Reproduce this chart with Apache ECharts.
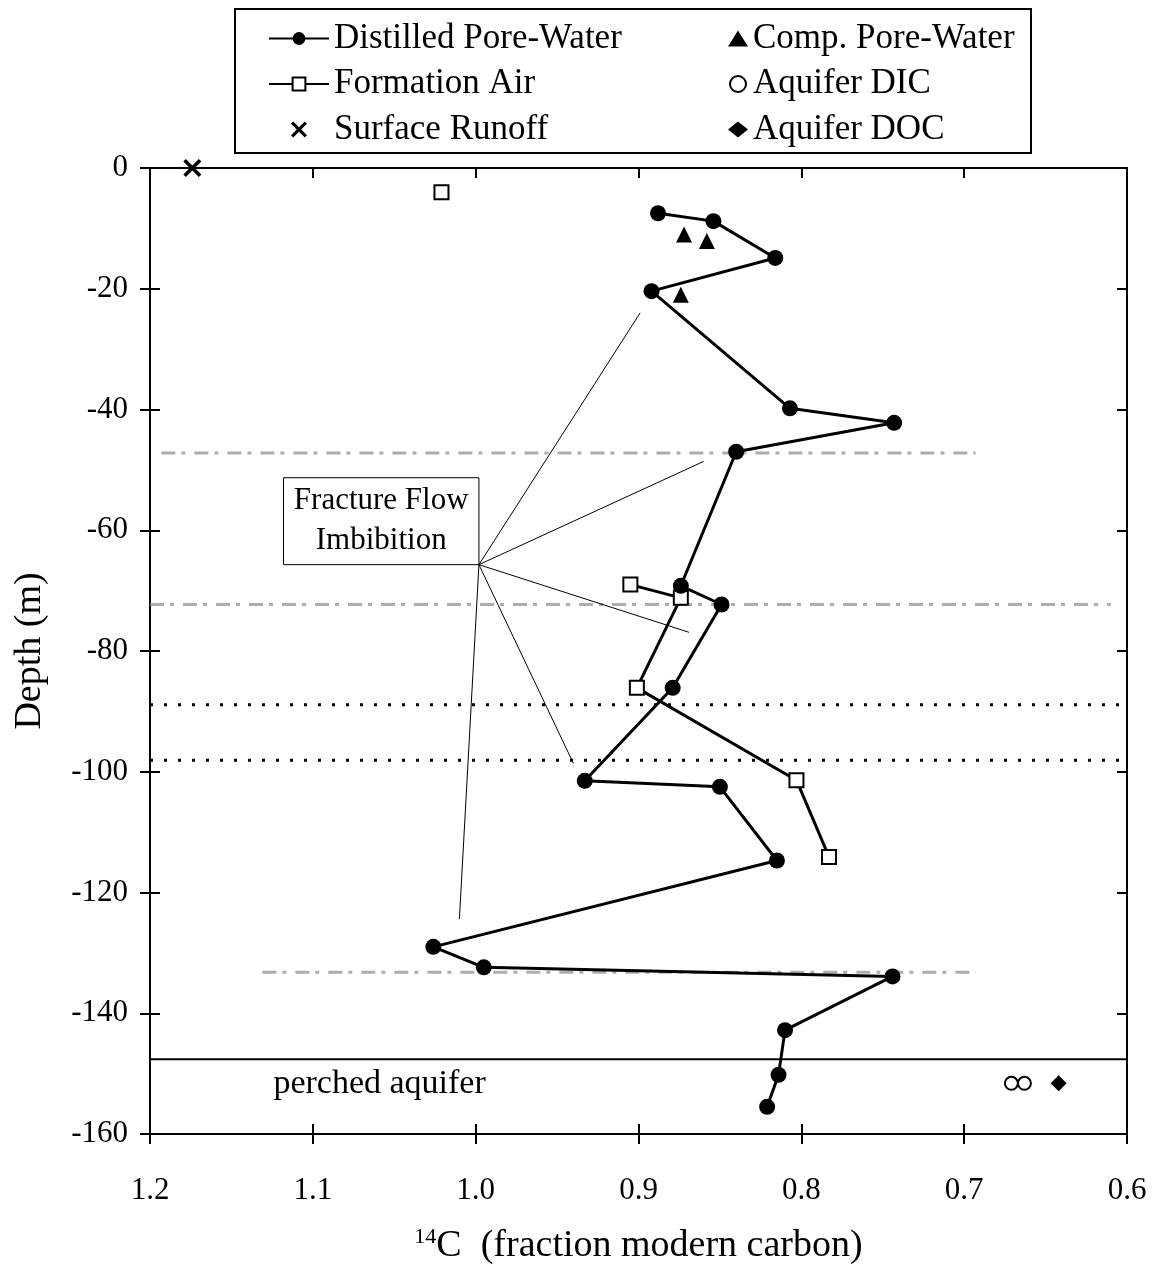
<!DOCTYPE html>
<html>
<head>
<meta charset="utf-8">
<script src="https://cdn.jsdelivr.net/npm/echarts@6/dist/echarts.min.js"></script>
<style>
  html, body { margin: 0; padding: 0; background: #fff; }
  #chart { width: 1155px; height: 1273px; }
</style>
</head>
<body>
<div id="chart"></div>
<script>
// ---- data: [14C fraction modern, depth m] ----
const distilledPoreWater = [
  [0.888, -7.5], [0.854, -8.8], [0.816, -14.9], [0.892, -20.4],
  [0.807, -39.8], [0.743, -42.2], [0.840, -47.0], [0.874, -69.2],
  [0.849, -72.3], [0.879, -86.1], [0.933, -101.5], [0.850, -102.5],
  [0.815, -114.7], [1.026, -129.0], [0.995, -132.4], [0.744, -133.9],
  [0.810, -142.8], [0.814, -150.2], [0.821, -155.5]
];
const formationAirTop = [[1.021, -4.0]];
const formationAir = [
  [0.905, -69.0], [0.874, -71.2], [0.901, -86.1], [0.803, -101.4], [0.783, -114.1]
];
const compPoreWater = [[0.872, -11.0], [0.858, -12.1], [0.874, -21.0]];
const aquiferDIC = [[0.671, -151.6], [0.663, -151.6]];
const aquiferDOC = [[0.642, -151.6]];
const surfaceRunoff = [[1.174, 0]];

// annotations
const fractureHub = [0.998, -65.7];
const fractureEnds = [[0.899, -24.0], [0.860, -48.6], [0.869, -76.9], [0.940, -98.6], [1.010, -124.4]];
const fractureBox = [[1.118, -51.3], [0.998, -65.7]];
const dottedDepths = [-88.9, -98.1];
const perchedTop = -147.6;
const grayBands = [
  [[1.193, -47.2], [0.693, -47.2]],
  [[1.200, -72.3], [0.610, -72.3]],
  [[1.131, -133.2], [0.693, -133.2]]
];
const perchedLabel = [1.059, -151.7];

const xTicks = { min: 0.6, max: 1.2, interval: 0.1 };
const yTicks = { min: -160, max: 0, interval: 20 };

const FONT = "Liberation Serif";
const chart = echarts.init(document.getElementById("chart"));

const tickStyle = { color: "#000", width: 2 };
const xBase = {
  type: "value", inverse: true, ...xTicks,
  splitLine: { show: false },
  axisLine: { onZero: false, lineStyle: { color: "#000", width: 2 } },
};
const yBase = {
  type: "value", ...yTicks,
  splitLine: { show: false },
  axisLine: { onZero: false, lineStyle: { color: "#000", width: 2 } },
};

// thin fracture lines, one series each
const fractureSeries = fractureEnds.map((end, i) => ({
  type: "line", name: "fracture" + i, silent: true, symbol: "none",
  data: [fractureHub, end],
  lineStyle: { color: "#000", width: 1 }, z: 3,
}));

const graySeries = grayBands.map((seg, i) => ({
  type: "line", name: "band" + i, silent: true, symbol: "none",
  data: seg,
  lineStyle: { color: "#8a8a8a", width: 3, type: [14, 6, 4, 9], opacity: 0.7 }, z: 1,
}));

const dottedSeries = dottedDepths.map((d, i) => ({
  type: "line", name: "dot" + i, silent: true, symbol: "none",
  data: [[xTicks.max, d], [xTicks.min, d]],
  lineStyle: { color: "#000", width: 3, type: [3, 11] }, z: 2,
}));

const legendText = { color: "#000", fontFamily: FONT, fontSize: 35, lineHeight: 35 };

const option = {
  animation: false,
  backgroundColor: "#fff",
  grid: { left: 150, right: 28, top: 168, bottom: 139 },
  xAxis: [
    {
      ...xBase, position: "bottom",
      axisTick: { inside: false, length: 10, lineStyle: tickStyle },
      axisLabel: {
        color: "#000", fontFamily: FONT, fontSize: 31, margin: 41,
        formatter: (v) => v.toFixed(1),
      },
      name: "{sup|14}C  (fraction modern carbon)",
      nameLocation: "middle", nameGap: 92,
      nameTextStyle: {
        color: "#000", fontFamily: FONT, fontSize: 38,
        rich: { sup: { fontFamily: FONT, fontSize: 22, color: "#000", padding: [0, 0, 18, 0] } },
      },
    },
    {
      ...xBase, position: "bottom",
      axisTick: { inside: true, length: 10, lineStyle: tickStyle },
      axisLabel: { show: false },
    },
    {
      ...xBase, position: "top",
      axisTick: { inside: true, length: 10, lineStyle: tickStyle },
      axisLabel: { show: false },
    },
  ],
  yAxis: [
    {
      ...yBase, position: "left",
      axisTick: { inside: false, length: 10, lineStyle: tickStyle },
      axisLabel: { color: "#000", fontFamily: FONT, fontSize: 31, margin: 22 },
      name: "Depth (m)", nameLocation: "middle", nameRotate: 90, nameGap: 101,
      nameTextStyle: { color: "#000", fontFamily: FONT, fontSize: 38 },
    },
    {
      ...yBase, position: "left",
      axisTick: { inside: true, length: 10, lineStyle: tickStyle },
      axisLabel: { show: false },
    },
    {
      ...yBase, position: "right",
      axisTick: { inside: true, length: 10, lineStyle: tickStyle },
      axisLabel: { show: false },
    },
  ],
  legend: [
    {
      data: ["Distilled Pore-Water", "Formation Air", "Surface Runoff"],
      orient: "vertical", left: 263, top: 16, itemWidth: 60, itemHeight: 16, itemGap: 10.5,
      selectedMode: false, textStyle: legendText,
    },
    {
      data: ["Comp. Pore-Water", "Aquifer DIC", "Aquifer DOC"],
      orient: "vertical", left: 723, top: 16, itemWidth: 20, itemHeight: 16, itemGap: 10.5,
      selectedMode: false, textStyle: legendText,
    },
  ],
  graphic: [
    {
      type: "rect", left: 234, top: 8, z: -1,
      shape: { width: 796, height: 144 },
      style: { fill: "#fff", stroke: "#000", lineWidth: 2 },
    },
  ],
  series: [
    ...graySeries,
    ...dottedSeries,
    {
      type: "line", name: "perched", silent: true, symbol: "none",
      data: [[xTicks.max, perchedTop], [xTicks.min, perchedTop]],
      lineStyle: { color: "#000", width: 2 }, z: 2,
    },
    ...fractureSeries,
    {
      type: "scatter", name: "box", silent: true, symbolSize: 0, data: [],
      markArea: {
        silent: true,
        itemStyle: { color: "#fff", borderColor: "#000", borderWidth: 1, opacity: 1 },
        label: {
          show: true, position: "inside", color: "#000",
          fontFamily: FONT, fontSize: 31, lineHeight: 40,
          formatter: "Fracture Flow\nImbibition",
        },
        data: [[{ coord: fractureBox[0] }, { coord: fractureBox[1] }]],
      },
      z: 4,
    },
    {
      type: "scatter", name: "perchedLabel", silent: true, symbolSize: 1,
      itemStyle: { color: "rgba(0,0,0,0)", opacity: 1 },
      data: [perchedLabel],
      label: {
        show: true, position: "inside", formatter: "perched aquifer",
        color: "#000", fontFamily: FONT, fontSize: 34,
      },
    },
    {
      type: "line", name: "Distilled Pore-Water", data: distilledPoreWater,
      symbol: "circle", symbolSize: 16,
      itemStyle: { color: "#000", opacity: 1 },
      lineStyle: { color: "#000", width: 3 }, z: 6,
    },
    {
      type: "line", name: "Formation Air", data: formationAir,
      symbol: "rect", symbolSize: 14,
      itemStyle: { color: "#fff", borderColor: "#000", borderWidth: 2, opacity: 1 },
      lineStyle: { color: "#000", width: 3 }, z: 5,
    },
    {
      type: "scatter", name: "Formation Air", data: formationAirTop,
      symbol: "rect", symbolSize: 14,
      itemStyle: { color: "#fff", borderColor: "#000", borderWidth: 2, opacity: 1 }, z: 5,
    },
    {
      type: "scatter", name: "Surface Runoff", data: surfaceRunoff,
      symbol: "path://M0,1.4L1.4,0L5,3.6L8.6,0L10,1.4L6.4,5L10,8.6L8.6,10L5,6.4L1.4,10L0,8.6L3.6,5Z",
      symbolSize: 18, itemStyle: { color: "#000", opacity: 1 }, z: 6,
    },
    {
      type: "scatter", name: "Comp. Pore-Water", data: compPoreWater,
      symbol: "triangle", symbolSize: 16, itemStyle: { color: "#000", opacity: 1 }, z: 6,
    },
    {
      type: "scatter", name: "Aquifer DIC", data: aquiferDIC,
      symbol: "circle", symbolSize: 13,
      itemStyle: { color: "#fff", borderColor: "#000", borderWidth: 2, opacity: 1 }, z: 6,
    },
    {
      type: "scatter", name: "Aquifer DOC", data: aquiferDOC,
      symbol: "diamond", symbolSize: 16, itemStyle: { color: "#000", opacity: 1 }, z: 6,
    },
  ],
};

chart.setOption(option);
</script>
</body>
</html>
